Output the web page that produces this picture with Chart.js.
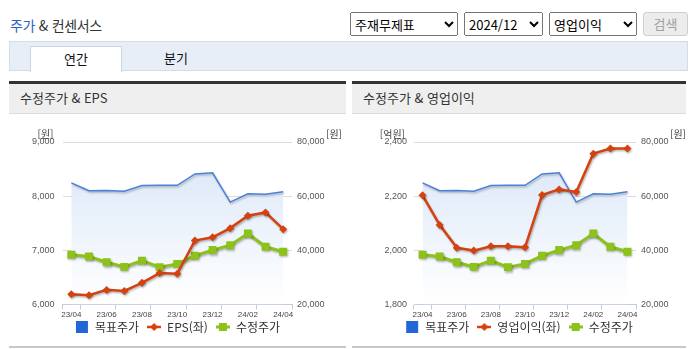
<!DOCTYPE html>
<html lang="ko">
<head>
<meta charset="utf-8">
<title>주가 & 컨센서스</title>
<script src="https://cdn.jsdelivr.net/npm/chart.js@4"></script>
<style>
  body { margin: 0; background: #fff; font-family: 'Noto Sans CJK KR', 'Noto Sans', sans-serif; color: #333; }
  .wrap { position: relative; width: 695px; height: 349px; overflow: hidden; }
  .title { position: absolute; left: 10px; top: 15px; font-size: 14px; color: #333; letter-spacing: -0.3px; }
  .title b { font-weight: normal; color: #2d62c4; }
  select { position: absolute; top: 12px; height: 24px; font-size: 13px; font-family: 'Noto Sans CJK KR', sans-serif; }
  .btn { position: absolute; left: 643px; top: 12px; width: 43px; height: 22px; border: 1px solid #cfcfcf; border-radius: 3px; background: #ececec; color: #a0a0a0; font-size: 13px; line-height: 22px; text-align: center; }
  .tabs { position: absolute; left: 9px; top: 41px; width: 677px; height: 28px; background: #e8eef8; border: 1px solid #d4dce8; }
  .tab { position: absolute; top: 4px; height: 25px; font-size: 13px; line-height: 24px; text-align: center; color: #111; }
  .tab.on { left: 20px; width: 90px; background: #fff; border: 1px solid #cdd6e4; border-bottom: none; }
  .tab.off { left: 120px; width: 92px; }
  .panel { position: absolute; top: 81px; height: 262px; border-top: 3px solid #333; border-bottom: 2px solid #c8c8c8; }
  .panel .head { height: 29px; background: #efefef; border-bottom: 1px solid #dcdcdc; font-size: 13px; line-height: 28px; padding-left: 11px; color: #333; }
  .panel canvas { position: absolute; left: 0; top: 30px; }
</style>
</head>
<body>
<div class="wrap">
  <div class="title"><b>주가</b> &amp; 컨센서스</div>
  <select style="left:350px;width:108px"><option>주재무제표</option></select>
  <select style="left:464px;width:79px"><option>2024/12</option></select>
  <select style="left:549px;width:88px"><option>영업이익</option></select>
  <div class="btn">검색</div>
  <div class="tabs">
    <div class="tab on">연간</div>
    <div class="tab off">분기</div>
  </div>
  <div class="panel" style="left:9px;width:337px">
    <div class="head">수정주가 &amp; EPS</div>
    <canvas id="epsChart" width="337" height="228"></canvas>
  </div>
  <div class="panel" style="left:352px;width:334px">
    <div class="head">수정주가 &amp; 영업이익</div>
    <canvas id="opChart" width="334" height="228"></canvas>
  </div>
</div>
<script>
// months on the x axis
const months = ['23/04', '23/05', '23/06', '23/07', '23/08', '23/09', '23/10', '23/11', '23/12', '24/01', '24/02', '24/03', '24/04'];
// right axis (원)
const targetPrice = [64900, 62000, 62100, 61800, 63900, 64000, 64000, 68200, 68600, 57800, 60900, 60700, 61600];
const adjPrice = [38400, 37700, 35600, 33900, 36200, 33800, 35000, 38000, 40100, 41900, 46200, 41300, 39500];
// left axis
const eps = [6190, 6170, 6270, 6250, 6400, 6580, 6570, 7180, 7240, 7410, 7640, 7700, 7390];
const opProfit = [2203, 2094, 2010, 1999, 2015, 2015, 2011, 2204, 2225, 2215, 2357, 2376, 2376];
// axis ticks
const epsTicks = [6000, 7000, 8000, 9000];
const opTicks = [1800, 2000, 2200, 2400];
const priceTicks = [20000, 40000, 60000, 80000];

const BLUE = '#4a80d8';
const RED = '#d5420f';
const GREEN = '#8cc21a';
const TICK_FONT = "'Liberation Sans', Arial, sans-serif";

// small canvases used as legend markers
function icon(draw) {
    const c = document.createElement('canvas');
    c.width = 14; c.height = 12;
    draw(c.getContext('2d'));
    return c;
}
const blueIcon = icon(function (g) { g.fillStyle = '#2266d8'; g.fillRect(1, 0, 12, 12); });
const redIcon = icon(function (g) {
    g.strokeStyle = RED; g.lineWidth = 2.5;
    g.beginPath(); g.moveTo(0, 6); g.lineTo(14, 6); g.stroke();
    g.fillStyle = RED;
    g.beginPath(); g.moveTo(7, 2); g.lineTo(11, 6); g.lineTo(7, 10); g.lineTo(3, 6); g.closePath(); g.fill();
});
const greenIcon = icon(function (g) {
    g.strokeStyle = GREEN; g.lineWidth = 3;
    g.beginPath(); g.moveTo(0, 6); g.lineTo(14, 6); g.stroke();
    g.fillStyle = GREEN; g.fillRect(3, 2, 8, 8);
});
const legendIcons = [blueIcon, redIcon, greenIcon];

// shadow under the lines
const lineShadow = {
    id: 'lineShadow',
    beforeDatasetDraw(chart) {
        const ctx = chart.ctx;
        ctx.save();
        ctx.shadowColor = 'rgba(0,0,0,0.28)';
        ctx.shadowBlur = 2;
        ctx.shadowOffsetX = 1;
        ctx.shadowOffsetY = 1.5;
    },
    afterDatasetDraw(chart) {
        chart.ctx.restore();
    }
};

// move the legend up right under the month labels
const legendShift = {
    id: 'legendShift',
    afterLayout(chart) {
        const lg = chart.legend;
        const dy = chart.chartArea.bottom + 8.5 - lg.top;
        lg.top += dy;
        lg.bottom += dy;
    }
};

// "[원]" style unit labels above both axes
const unitTitles = {
    id: 'unitTitles',
    afterDraw(chart, args, opts) {
        const ctx = chart.ctx;
        const area = chart.chartArea;
        ctx.save();
        ctx.font = "10px 'Noto Sans CJK KR'";
        ctx.fillStyle = '#444';
        ctx.textAlign = 'right';
        ctx.textBaseline = 'middle';
        ctx.fillText(opts.left, area.left - 9, area.top - 8);
        ctx.fillText(opts.right, area.right + 50, area.top - 8);
        ctx.restore();
    }
};

function areaGradient(context) {
    const area = context.chart.chartArea;
    if (!area) return 'rgba(220,232,248,0.8)';
    const g = context.chart.ctx.createLinearGradient(0, area.top, 0, area.bottom);
    g.addColorStop(0, '#d6e4f7');
    g.addColorStop(1, 'rgba(255,255,255,0.9)');
    return g;
}

function makeChart(canvasId, leftLabel, leftData, leftTicks, sizes) {
    const ctx = document.getElementById(canvasId).getContext('2d');

    const data = {
        labels: months,
        datasets: [{
            label: '목표주가',
            data: targetPrice,
            yAxisID: 'yR',
            borderColor: BLUE,
            borderWidth: 1.5,
            backgroundColor: areaGradient,
            fill: 'start',
            pointRadius: 0,
            order: 3
        }, {
            label: leftLabel,
            data: leftData,
            yAxisID: 'yL',
            borderColor: RED,
            backgroundColor: RED,
            borderWidth: 2.5,
            pointStyle: 'rectRot',
            pointRadius: 4,
            pointBorderWidth: 0,
            order: 1
        }, {
            label: '수정주가',
            data: adjPrice,
            yAxisID: 'yR',
            borderColor: GREEN,
            backgroundColor: GREEN,
            borderWidth: 3,
            pointStyle: 'rect',
            pointRadius: 5.6,
            pointBorderWidth: 0,
            order: 2
        }]
    };

    const config = {
        type: 'line',
        data: data,
        plugins: [lineShadow, legendShift, unitTitles],
        options: {
            responsive: false,
            animation: false,
            layout: { padding: { top: 28, bottom: 0, left: 0, right: 0 } },
            elements: { line: { tension: 0 } },
            scales: {
                x: {
                    offset: true,
                    grid: {
                        offset: true,
                        drawOnChartArea: false,
                        tickLength: 5,
                        color: function (c) {
                            return (c.index === undefined || c.index % 2 === 1 || c.index === 0) ? '#c3cde0' : 'rgba(0,0,0,0)';
                        }
                    },
                    border: { color: '#c3cde0' },
                    ticks: {
                        autoSkip: false,
                        maxRotation: 0,
                        padding: 0,
                        color: '#444',
                        font: { family: TICK_FONT, size: 8 },
                        callback: function (v, i) { return i % 2 === 0 ? months[i] : ''; }
                    },
                    afterFit: function (s) { s.height = 15; }
                },
                yL: {
                    position: 'left',
                    min: leftTicks[0],
                    max: leftTicks[leftTicks.length - 1],
                    afterBuildTicks: function (s) { s.ticks = leftTicks.map(function (v) { return { value: v }; }); },
                    grid: { color: '#dcdcdc', drawTicks: false },
                    border: { display: false },
                    ticks: {
                        padding: sizes.leftPad,
                        color: '#555',
                        font: { family: TICK_FONT, size: 9 },
                        callback: function (v) { return v.toLocaleString('en-US'); }
                    },
                    afterFit: function (s) { s.width = sizes.left; }
                },
                yR: {
                    position: 'right',
                    min: priceTicks[0],
                    max: priceTicks[priceTicks.length - 1],
                    afterBuildTicks: function (s) { s.ticks = priceTicks.map(function (v) { return { value: v }; }); },
                    grid: { display: false, drawTicks: false },
                    border: { display: false },
                    ticks: {
                        padding: 5,
                        color: '#555',
                        font: { family: TICK_FONT, size: 9 },
                        callback: function (v) { return v.toLocaleString('en-US'); }
                    },
                    afterFit: function (s) { s.width = sizes.right; }
                }
            },
            plugins: {
                legend: {
                    position: 'bottom',
                    maxHeight: 22.5,
                    labels: {
                        usePointStyle: true,
                        pointStyleWidth: 14,
                        boxHeight: 12,
                        padding: 8,
                        color: '#333',
                        font: { family: "'Noto Sans CJK KR'", size: 12 },
                        generateLabels: function (chart) {
                            return chart.data.datasets.map(function (ds, i) {
                                return { text: ds.label, pointStyle: legendIcons[i], datasetIndex: i, lineWidth: 0, fontColor: '#333' };
                            });
                        }
                    },
                    onClick: function () {}
                },
                tooltip: { enabled: false },
                unitTitles: sizes.units
            }
        }
    };

    return new Chart(ctx, config);
}

document.addEventListener('DOMContentLoaded', function () {
    makeChart('epsChart', 'EPS(좌)', eps, epsTicks,
        { left: 53.5, right: 54, leftPad: 8, units: { left: '[원]', right: '[원]' } });
    makeChart('opChart', '영업이익(좌)', opProfit, opTicks,
        { left: 62, right: 50, leftPad: 7, units: { left: '[억원]', right: '[원]' } });
});
</script>
</body>
</html>
